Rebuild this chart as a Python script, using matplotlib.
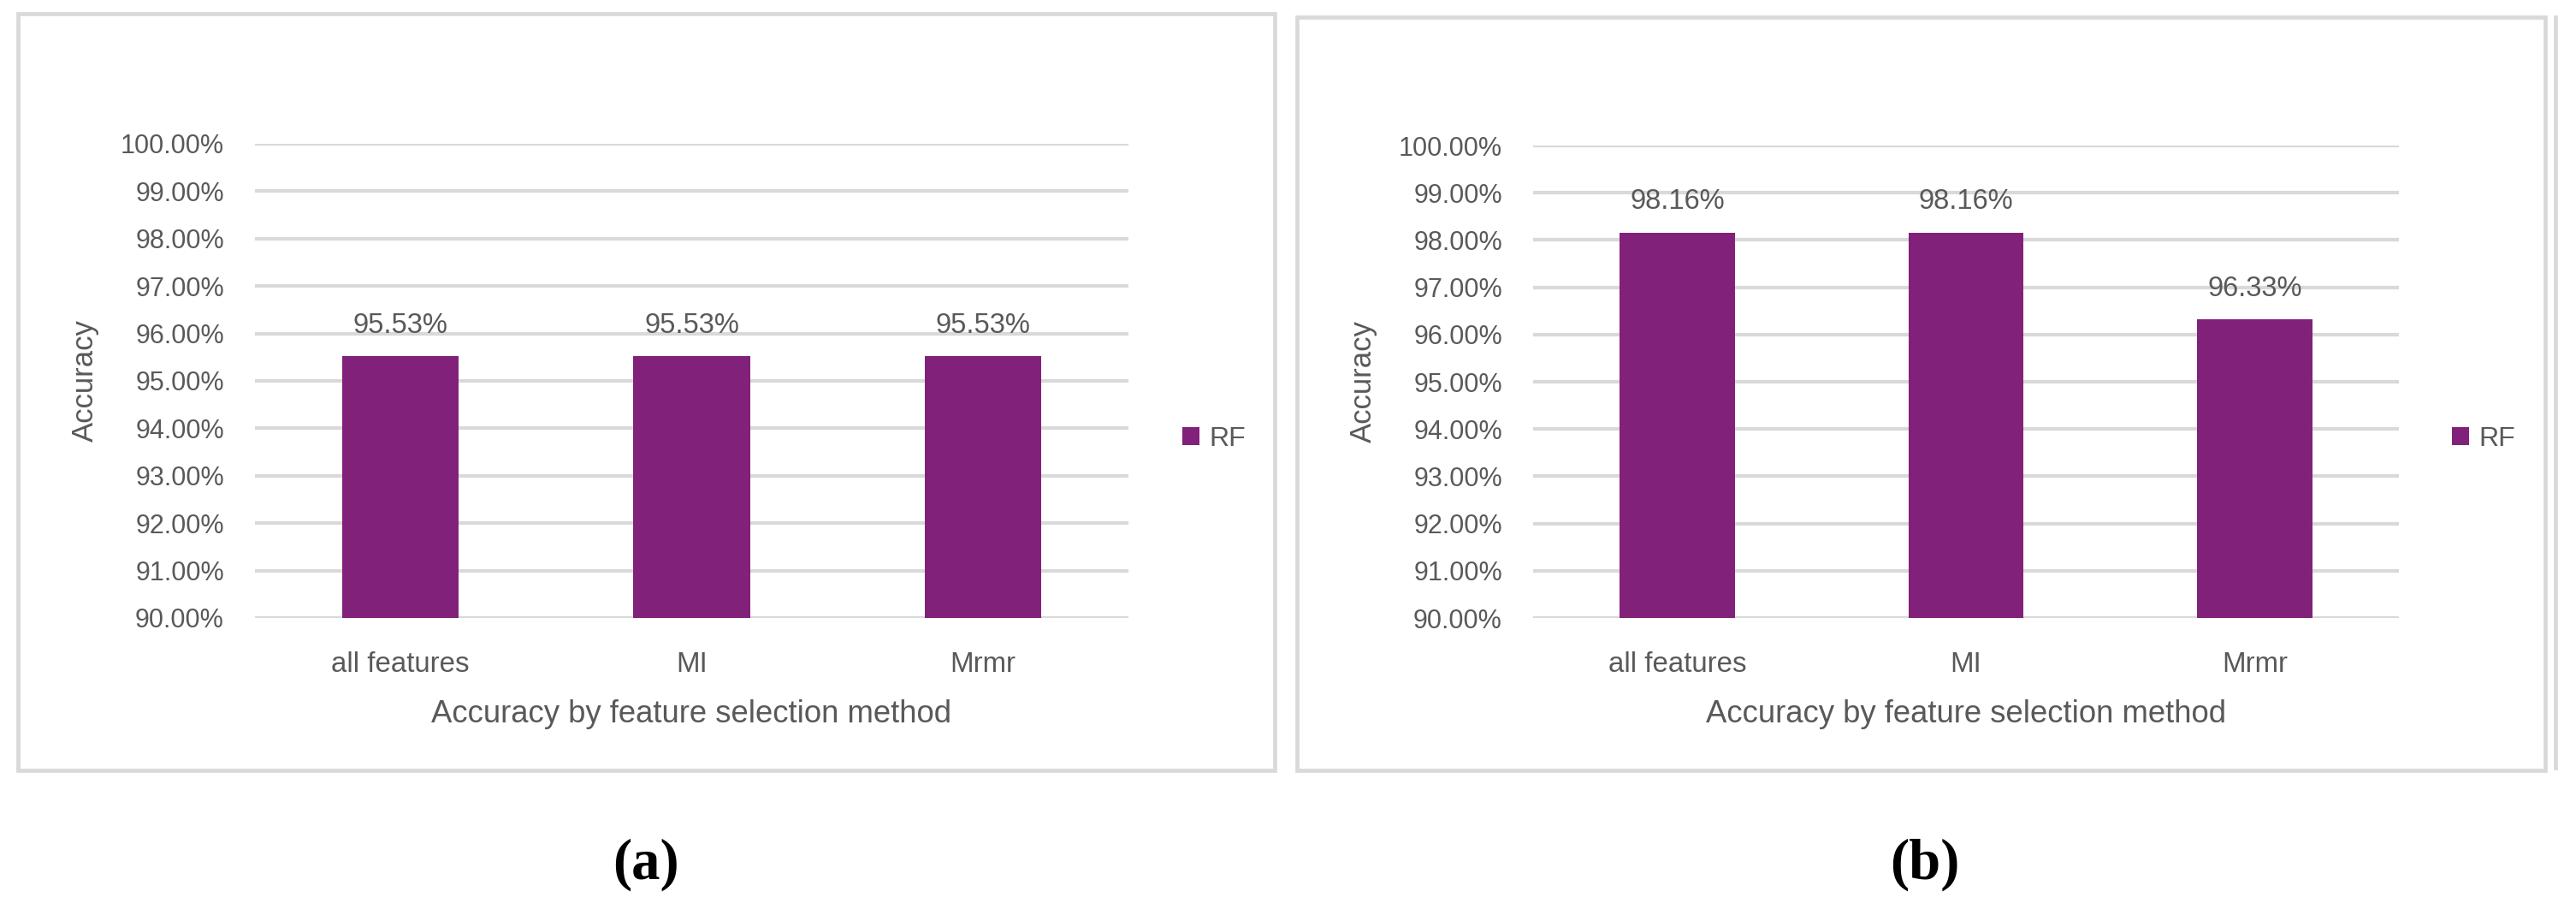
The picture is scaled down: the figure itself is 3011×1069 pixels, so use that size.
import matplotlib
matplotlib.use("Agg")
import matplotlib.pyplot as plt
from matplotlib import font_manager as fm
from matplotlib.patches import Rectangle
from matplotlib.lines import Line2D

# ---------------- data ----------------
categories = ["all features", "MI", "Mrmr"]
acc_a = [95.53, 95.53, 95.53]
acc_b = [98.16, 98.16, 96.33]
series_name = "RF"
y_ticks = [90, 91, 92, 93, 94, 95, 96, 97, 98, 99, 100]
x_title = "Accuracy by feature selection method"
y_title = "Accuracy"
captions = ["(a)", "(b)"]

# ---------------- style ----------------
W, H = 3011, 1069
DPI = 100
BAR = "#822179"
GRID = "#d9d9d9"
TXT = "#595959"

avail = {f.name for f in fm.fontManager.ttflist}
if "Liberation Sans Narrow" in avail:
    NARROW, nscale = "Liberation Sans Narrow", 1.0
else:
    NARROW, nscale = "Liberation Sans", 0.82
SANS = "Liberation Sans"
SERIF = "Liberation Serif" if "Liberation Serif" in avail else "DejaVu Serif"

fig = plt.figure(figsize=(W / DPI, H / DPI), dpi=DPI)
fig.patch.set_facecolor("white")


def px_rect(x0, y0, x1, y1):
    return [x0 / W, 1 - y1 / H, (x1 - x0) / W, (y1 - y0) / H]


def frame(x0, y0, x1, y1):
    fig.patches.append(Rectangle((x0 / W, 1 - y1 / H), (x1 - x0) / W, (y1 - y0) / H,
                                 transform=fig.transFigure, fill=False,
                                 edgecolor=GRID, linewidth=3.4, zorder=0))


def panel(ax_box, values, legend_xy, cap_xy, caption):
    ax = fig.add_axes(px_rect(*ax_box))
    x = list(range(len(categories)))
    ax.bar(x, values, width=0.4, color=BAR, label=series_name, zorder=3)
    ax.set_xlim(-0.5, len(categories) - 0.5)
    ax.set_ylim(y_ticks[0], y_ticks[-1])
    ax.set_yticks(y_ticks)
    ax.set_yticklabels([f"{t:.2f}%" for t in y_ticks], fontfamily=SANS,
                       fontsize=22, color=TXT)
    ax.set_xticks(x)
    ax.set_xticklabels(categories, fontfamily=NARROW, fontsize=29 * nscale, color=TXT)
    ax.tick_params(axis="both", length=0)
    ax.tick_params(axis="y", pad=26)
    ax.tick_params(axis="x", pad=28)
    ax.yaxis.grid(True, color=GRID, linewidth=3.0, zorder=0)
    ax.set_axisbelow(True)
    for s in ax.spines.values():
        s.set_visible(False)
    ax.set_xlabel(x_title, fontfamily=NARROW, fontsize=32 * nscale, color=TXT, labelpad=18)
    ax.set_ylabel(y_title, fontfamily=SANS, fontsize=25, color=TXT, labelpad=18)
    for xi, v in zip(x, values):
        ax.annotate(f"{v:.2f}%", (xi, v), xytext=(0, 19.5), textcoords="offset points",
                    ha="center", va="baseline", fontfamily=SANS, fontsize=23.5, color=TXT)
    leg = ax.legend(loc="center left", bbox_to_anchor=(legend_xy[0] / W, 1 - legend_xy[1] / H),
                    bbox_transform=fig.transFigure, frameon=False, borderpad=0,
                    borderaxespad=0, handlelength=0.63, handleheight=0.63,
                    handletextpad=0.35, prop={"family": SANS, "size": 23})
    for t in leg.get_texts():
        t.set_color(TXT)
    fig.text(cap_xy[0] / W, 1 - cap_xy[1] / H, caption, ha="center", va="center",
             fontfamily=SERIF, fontweight="bold", fontsize=48, color="black")
    return ax


# panel frames
frame(21, 16, 1490, 900)
frame(1516, 20, 2975, 900)
fig.lines.append(Line2D([2987 / W, 2987 / W], [1 - 20 / H, 1 - 897 / H],
                        transform=fig.transFigure, color=GRID, linewidth=3.4))

panel((298, 168, 1319, 722), acc_a, (1382, 513), (755, 1010), captions[0])
panel((1792, 170, 2804, 722), acc_b, (2866, 513), (2250, 1010), captions[1])

fig.savefig("out.png", dpi=DPI, facecolor="white")
